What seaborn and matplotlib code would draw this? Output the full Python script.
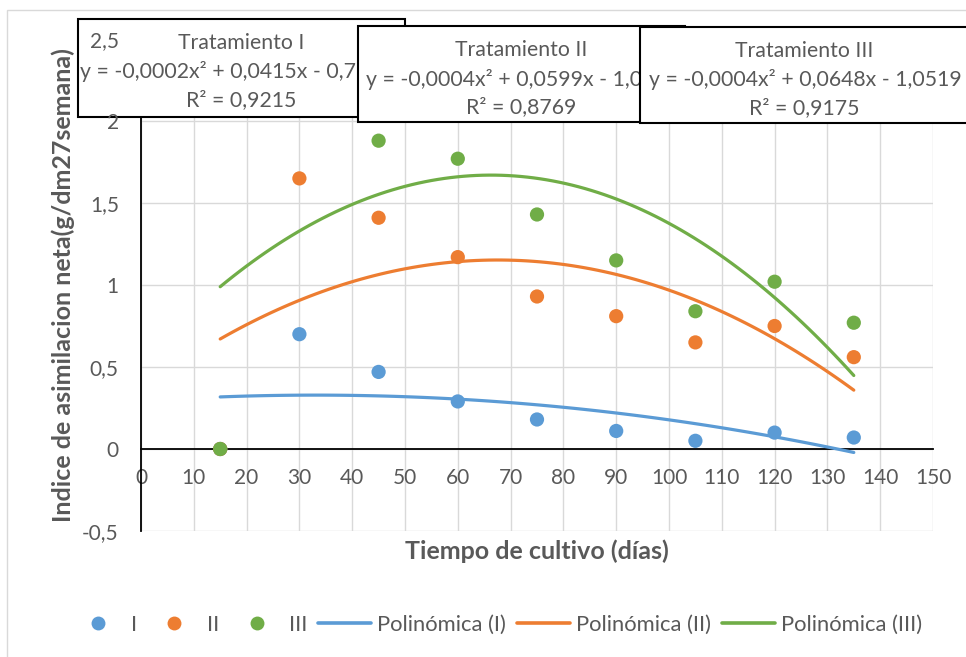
import numpy as np
import pandas as pd
import matplotlib
matplotlib.use("Agg")
import matplotlib.pyplot as plt
from matplotlib.patches import Rectangle
from matplotlib.lines import Line2D
from matplotlib.ticker import FuncFormatter, MultipleLocator
import seaborn as sns

# Días de cultivo y valores medidos por tratamiento
dias = [15, 30, 45, 60, 75, 90, 105, 120, 135]
trat_I = [0.00, 0.70, 0.47, 0.29, 0.18, 0.11, 0.05, 0.10, 0.07]
trat_II = [0.00, 1.65, 1.41, 1.17, 0.93, 0.81, 0.65, 0.75, 0.56]
trat_III = [0.00, 2.50, 1.88, 1.77, 1.43, 1.15, 0.84, 1.02, 0.77]

series = ["I", "II", "III"]
colores = ["#5B9BD5", "#ED7D31", "#70AD47"]

# Textos de las ecuaciones de tendencia
titulos = ["Tratamiento I", "Tratamiento II", "Tratamiento III"]
ecuaciones = ["y = -0,0002x² + 0,0415x - 0,7",
              "y = -0,0004x² + 0,0599x - 1,0",
              "y = -0,0004x² + 0,0648x - 1,0519"]
r2 = ["R² = 0,9215", "R² = 0,8769", "R² = 0,9175"]

df = pd.DataFrame({
    "dias": dias * 3,
    "valor": trat_I + trat_II + trat_III,
    "serie": sum([[s] * len(dias) for s in series], []),
})

sns.set_theme(style="white")
plt.rcParams["font.family"] = ["Lato", "DejaVu Sans"]
gris_txt = "#595959"
gris_grid = "#D9D9D9"

W, H = 966, 657
fig = plt.figure(figsize=(W / 100, H / 100), dpi=100)
fig.patch.set_facecolor("white")

def fx(px):
    return px / W

def fy(py):
    return 1 - py / H

ax = fig.add_axes([fx(141), fy(531), fx(933) - fx(141), fy(39) - fy(531)])
ax.set_facecolor("white")

# Puntos
sns.scatterplot(data=df, x="dias", y="valor", hue="serie", palette=colores,
                s=105, edgecolor="none", linewidth=0, legend=False, ax=ax, zorder=3)

# Líneas de tendencia polinómicas de orden 2
for s, c in zip(series, colores):
    sub = df[df["serie"] == s]
    sns.regplot(data=sub, x="dias", y="valor", order=2, scatter=False, ci=None,
                truncate=True, ax=ax, line_kws=dict(color=c, lw=2.3, zorder=2.8))

ax.set_xlim(0, 150)
ax.set_ylim(-0.5, 2.5)
ax.xaxis.set_major_locator(MultipleLocator(10))
ax.yaxis.set_major_locator(MultipleLocator(0.5))
ax.yaxis.set_major_formatter(FuncFormatter(lambda v, p: f"{v:g}".replace(".", ",")))

# Cuadrícula
ax.grid(axis="x", color=gris_grid, lw=1)
ax.grid(axis="y", visible=False)
for yv in np.arange(-0.5, 2.51, 0.5):
    ax.axhline(yv, color=gris_grid, lw=1, zorder=0.5)

for side in ["top", "right"]:
    ax.spines[side].set_visible(False)
ax.spines["bottom"].set_position(("data", 0))
ax.spines["bottom"].set_color("black")
ax.spines["bottom"].set_linewidth(1.3)
ax.spines["left"].set_color("black")
ax.spines["left"].set_linewidth(1.3)
ax.spines["bottom"].set_zorder(2.6)

ax.tick_params(axis="both", length=0, labelsize=15, labelcolor=gris_txt)
ax.tick_params(axis="x", pad=14)
ax.tick_params(axis="y", pad=16)
ax.yaxis.set_zorder(10)

ax.set_xlabel("Tiempo de cultivo (días)", fontsize=18, fontweight="bold", color=gris_txt)
ax.set_ylabel("Indice de asimilacion neta(g/dm27semana)", fontsize=18,
              fontweight="bold", color=gris_txt)
ax.xaxis.set_label_coords(0.5, (531 - 551) / 492)
ax.xaxis.label.set_va("center")
ax.yaxis.set_label_coords((63 - 141) / 792, 0.5)
ax.yaxis.label.set_va("center")

# Cuadros con las ecuaciones
cajas = [(78, 19, 405, 117), (358, 26, 685, 122), (640, 27, 968, 123)]
x_ecu = [80, 366, 649]
for i, ((x0, y0, x1, y1), t, e, r, xe) in enumerate(zip(cajas, titulos, ecuaciones, r2, x_ecu)):
    z = 5 + i
    rect = Rectangle((fx(x0), fy(y1)), fx(x1) - fx(x0), fy(y0) - fy(y1),
                     transform=fig.transFigure, facecolor="white", edgecolor="black",
                     lw=1.5, zorder=z, clip_on=False)
    ax.add_patch(rect)
    xc = (x0 + x1) / 2
    ax.text(fx(xc), fy(y0 + 24), t, transform=fig.transFigure, ha="center", va="center",
            fontsize=15.3, color=gris_txt, zorder=z + 0.1, clip_on=False)
    ax.text(fx(xe), fy(y0 + 53), e, transform=fig.transFigure, ha="left", va="center",
            fontsize=15.3, color=gris_txt, zorder=z + 0.1, clip_on=False)
    ax.text(fx(xc), fy(y0 + 81), r, transform=fig.transFigure, ha="center", va="center",
            fontsize=15.3, color=gris_txt, zorder=z + 0.1, clip_on=False)

# Borde del área del gráfico
fig.patches.append(Rectangle((fx(7), -0.1), 1.2, fy(10) + 0.1, transform=fig.transFigure,
                             facecolor="none", edgecolor=gris_grid, lw=1, zorder=0))

# Leyenda
handles = [Line2D([], [], ls="none", marker="o", ms=10, color=c, mec="none") for c in colores]
handles += [Line2D([], [], color=c, lw=2.6) for c in colores]
labels = series + [f"Polinómica ({s})" for s in series]
leg = fig.legend(handles, labels, loc="center", bbox_to_anchor=(fx(497), fy(625)), ncol=6,
                 frameon=False, fontsize=15.8, handlelength=2.42, handletextpad=0.27,
                 columnspacing=0.5, labelcolor=gris_txt)

fig.savefig("out.png", dpi=100, facecolor="white")
